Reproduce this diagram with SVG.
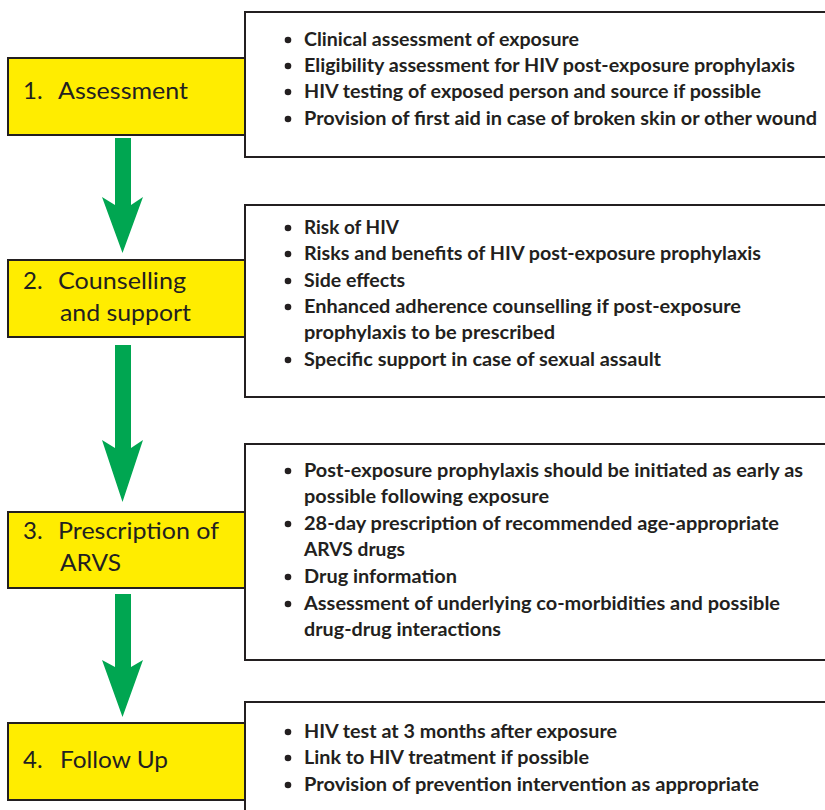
<svg xmlns="http://www.w3.org/2000/svg" width="825" height="810" viewBox="0 0 825 810">
<style>
.step{fill:#FFED00;stroke:#231F20;stroke-width:2}
.info{fill:#FFFFFF;stroke:#231F20;stroke-width:2}
.lbl{font-family:Lato,"Open Sans","Liberation Sans",sans-serif;font-size:24px;fill:#231F20}
.bt{font-family:Lato,"Open Sans","Liberation Sans",sans-serif;font-size:18px;font-weight:bold;fill:#231F20}
.arrow{fill:#00A651}
</style>
<rect width="825" height="810" fill="#FFFFFF"/>
<g id="connectors">
<path class="arrow" d="M115,138 H131 V205 L143,197 L122.5,253 L102,197 L115,205 Z"/>
<path class="arrow" d="M115,345 H131 V448 L143,440 L122.5,502 L102,440 L115,448 Z"/>
<path class="arrow" d="M115,594 H131 V667 L143,660 L122.5,717 L102,660 L115,667 Z"/>
</g>
<g id="info1">
<rect class="info" x="245" y="12" width="590" height="145"/>
<g class="bt">
<circle cx="288" cy="40" r="3.3"/><circle cx="288" cy="66" r="3.3"/><circle cx="288" cy="92" r="3.3"/><circle cx="288" cy="119" r="3.3"/>
<text x="304" y="46" textLength="275" lengthAdjust="spacingAndGlyphs">Clinical assessment of exposure</text>
<text x="304" y="72" textLength="491" lengthAdjust="spacingAndGlyphs">Eligibility assessment for HIV post-exposure prophylaxis</text>
<text x="304" y="98" textLength="457" lengthAdjust="spacingAndGlyphs">HIV testing of exposed person and source if possible</text>
<text x="304" y="125" textLength="513" lengthAdjust="spacingAndGlyphs">Provision of first aid in case of broken skin or other wound</text>
</g>
</g>
<g id="step1">
<rect class="step" x="8" y="58" width="237" height="77"/>
<text class="lbl" x="23" y="99">1.</text>
<text class="lbl" x="58" y="99" textLength="130" lengthAdjust="spacingAndGlyphs">Assessment</text>
</g>
<g id="info2">
<rect class="info" x="245" y="205" width="590" height="192"/>
<g class="bt">
<circle cx="288" cy="228" r="3.3"/><circle cx="288" cy="254" r="3.3"/><circle cx="288" cy="281" r="3.3"/><circle cx="288" cy="307" r="3.3"/><circle cx="288" cy="360" r="3.3"/>
<text x="304" y="234" textLength="95" lengthAdjust="spacingAndGlyphs">Risk of HIV</text>
<text x="304" y="260" textLength="457" lengthAdjust="spacingAndGlyphs">Risks and benefits of HIV post-exposure prophylaxis</text>
<text x="304" y="287" textLength="101" lengthAdjust="spacingAndGlyphs">Side effects</text>
<text x="304" y="313" textLength="437" lengthAdjust="spacingAndGlyphs">Enhanced adherence counselling if post-exposure</text>
<text x="304" y="339" textLength="251" lengthAdjust="spacingAndGlyphs">prophylaxis to be prescribed</text>
<text x="304" y="366" textLength="357" lengthAdjust="spacingAndGlyphs">Specific support in case of sexual assault</text>
</g>
</g>
<g id="step2">
<rect class="step" x="8" y="260" width="237" height="77"/>
<text class="lbl" x="23" y="289">2.</text>
<text class="lbl" x="58" y="289" textLength="128" lengthAdjust="spacingAndGlyphs">Counselling</text>
<text class="lbl" x="60" y="321" textLength="131" lengthAdjust="spacingAndGlyphs">and support</text>
</g>
<g id="info3">
<rect class="info" x="245" y="444" width="590" height="216"/>
<g class="bt">
<circle cx="288" cy="471" r="3.3"/><circle cx="288" cy="524" r="3.3"/><circle cx="288" cy="577" r="3.3"/><circle cx="288" cy="604" r="3.3"/>
<text x="304" y="477" textLength="499" lengthAdjust="spacingAndGlyphs">Post-exposure prophylaxis should be initiated as early as</text>
<text x="304" y="503" textLength="245" lengthAdjust="spacingAndGlyphs">possible following exposure</text>
<text x="304" y="530" textLength="475" lengthAdjust="spacingAndGlyphs">28-day prescription of recommended age-appropriate</text>
<text x="304" y="556" textLength="101" lengthAdjust="spacingAndGlyphs">ARVS drugs</text>
<text x="304" y="583" textLength="153" lengthAdjust="spacingAndGlyphs">Drug information</text>
<text x="304" y="610" textLength="476" lengthAdjust="spacingAndGlyphs">Assessment of underlying co-morbidities and possible</text>
<text x="304" y="636" textLength="197" lengthAdjust="spacingAndGlyphs">drug-drug interactions</text>
</g>
</g>
<g id="step3">
<rect class="step" x="8" y="512" width="237" height="76"/>
<text class="lbl" x="23" y="539">3.</text>
<text class="lbl" x="58" y="539" textLength="161" lengthAdjust="spacingAndGlyphs">Prescription of</text>
<text class="lbl" x="60" y="571" textLength="61" lengthAdjust="spacingAndGlyphs">ARVS</text>
</g>
<g id="info4">
<rect class="info" x="245" y="702" width="590" height="130"/>
<g class="bt">
<circle cx="288" cy="732" r="3.3"/><circle cx="288" cy="758" r="3.3"/><circle cx="288" cy="785" r="3.3"/>
<text x="304" y="738" textLength="313" lengthAdjust="spacingAndGlyphs">HIV test at 3 months after exposure</text>
<text x="304" y="764" textLength="285" lengthAdjust="spacingAndGlyphs">Link to HIV treatment if possible</text>
<text x="304" y="791" textLength="455" lengthAdjust="spacingAndGlyphs">Provision of prevention intervention as appropriate</text>
</g>
</g>
<g id="step4">
<rect class="step" x="8" y="723" width="237" height="77"/>
<text class="lbl" x="23" y="768">4.</text>
<text class="lbl" x="60" y="768" textLength="108" lengthAdjust="spacingAndGlyphs">Follow Up</text>
</g>
</svg>
